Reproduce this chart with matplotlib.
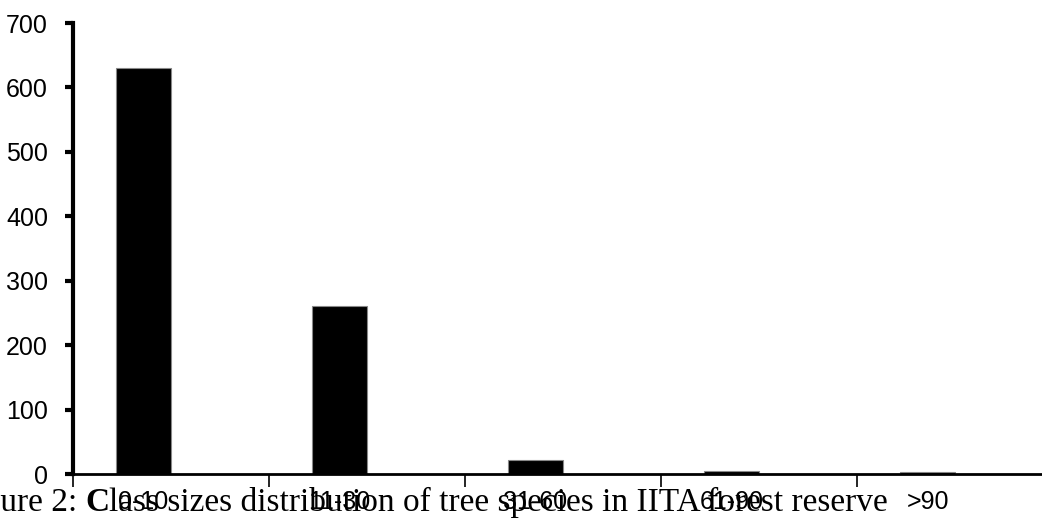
import matplotlib.pyplot as plt

# class sizes (cm) and number of trees
classes = ["0-10", "11-30", "31-60", "61-90", ">90"]
counts = [630, 260, 22, 5, 3]

lab_font = "Liberation Sans"

fig = plt.figure(figsize=(10.42, 5.2), dpi=100)
ax = fig.add_axes([73 / 1042, 46 / 520, 969 / 1042, 451 / 520])

pos = [i + 0.36 for i in range(len(classes))]
ax.bar(pos, counts, width=0.28, color="black", edgecolor="#888888", linewidth=0.8)

ax.set_xlim(0, 969 / 196)
ax.set_ylim(0, 700)
ax.set_yticks(range(0, 701, 100))
ax.set_yticklabels([str(v) for v in range(0, 701, 100)], family=lab_font, fontsize=18)
ax.set_xticks(range(len(classes)))
ax.set_xticklabels([])
for p, c in zip(pos, classes):
    ax.text(p, -0.035, c, transform=ax.get_xaxis_transform(), ha="center", va="top",
            fontsize=18, family=lab_font)

for s in ["top", "right"]:
    ax.spines[s].set_visible(False)
ax.spines["left"].set_linewidth(3)
ax.spines["bottom"].set_linewidth(2)
ax.tick_params(axis="y", length=6, width=3, pad=12)
ax.tick_params(axis="x", length=9, width=1.2)

# caption overlapping the category labels; "Fig" is cut off at the left edge
cap_kw = dict(fontsize=24, family="Liberation Serif", ha="left", va="baseline")
pieces = [("Figure 2: ", "normal"), ("C", "bold"), ("lass sizes distribution of tree species in IITA forest reserve", "normal")]
fig.canvas.draw()
r = fig.canvas.get_renderer()
probe = fig.text(0, 0, "Fig", **cap_kw)
x = -probe.get_window_extent(r).width
probe.remove()
texts = [fig.text(0, 9 / 520, txt, fontweight=w, **cap_kw) for txt, w in pieces]
for t in texts:
    t.set_x(x / 1042)
    x += t.get_window_extent(r).width

fig.savefig("out.png", dpi=100)
